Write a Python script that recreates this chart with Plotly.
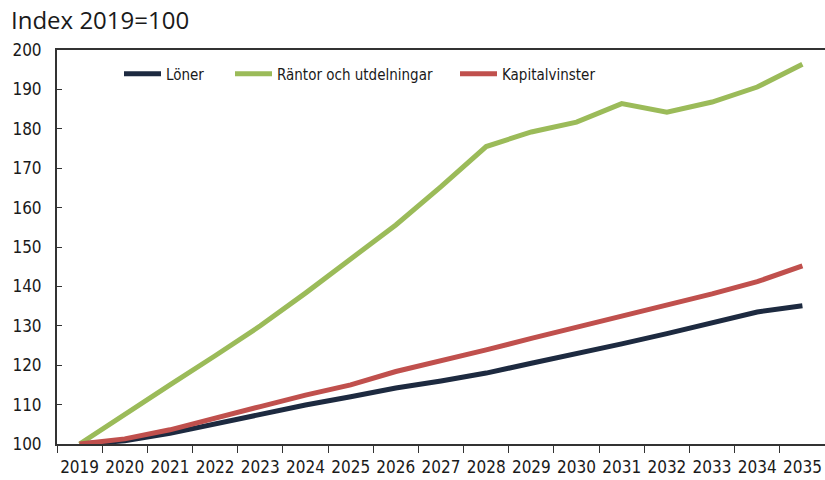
import plotly.graph_objects as go

years = [str(y) for y in range(2019, 2036)]
loner = [100, 100.8, 102.7, 105.1, 107.6, 109.9, 112.0, 114.2, 116.0, 118.0, 120.5, 122.8, 125.4, 128.0, 130.9, 133.5, 135.1]
rantor = [100, 107.6, 115.0, 122.4, 130.0, 138.3, 147.0, 155.6, 165.3, 175.5, 179.2, 181.7, 186.4, 184.2, 186.8, 190.6, 196.4]
kapital = [100, 101.3, 103.6, 106.4, 109.5, 112.4, 115.0, 118.4, 121.0, 123.9, 126.8, 129.6, 132.6, 135.2, 138.1, 141.2, 145.2]
y_ticks = [100, 110, 120, 130, 140, 150, 160, 170, 180, 190, 200]

names = ["Löner", "Räntor och utdelningar", "Kapitalvinster"]
colors = ["#1d2a40", "#9bbb59", "#c0504d"]
legend_ids = ["legend", "legend2", "legend3"]
legend_px = [119, 230, 455]  # left pixel of each legend entry

FONT = "DejaVu Sans Condensed"
W, H = 825, 480
L, R, T, B = 57, 0, 50, 36
PW = W - L - R
PH = H - T - B

fig = go.Figure()
for name, vals, col, lid in zip(names, [loner, rantor, kapital], colors, legend_ids):
    fig.add_trace(go.Scatter(x=years, y=vals, mode="lines", name=name,
                             line=dict(color=col, width=5), legend=lid))

leg_common = dict(orientation="h", yanchor="middle", xanchor="left",
                  y=(PH + T - 74) / PH, bgcolor="rgba(0,0,0,0)",
                  font=dict(family=FONT, size=15, color="#1a1a1a"),
                  itemwidth=37, borderwidth=0)
legends = {}
for lid, px in zip(legend_ids, legend_px):
    legends[lid] = dict(leg_common, x=(px - L) / PW)

fig.update_layout(
    width=W, height=H,
    margin=dict(l=L, r=R, t=T, b=B, pad=0),
    paper_bgcolor="white", plot_bgcolor="white",
    font=dict(family=FONT, size=17, color="#1a1a1a"),
    showlegend=True,
    annotations=[dict(text="Index 2019=100", xref="paper", yref="paper",
                      x=(10 - L) / PW, y=1.0, xanchor="left", yanchor="bottom",
                      yshift=13, showarrow=False, borderpad=0,
                      font=dict(family="Open Sans", size=24, color="#1a1a1a"))],
    **legends,
)
fig.update_xaxes(type="category", range=[-0.5, 16.5], tickson="boundaries",
                 tickangle=0, automargin=False, ticklabelstandoff=7,
                 ticks="outside", ticklen=7, tickcolor="#333", tickwidth=1,
                 showline=True, linecolor="#333", linewidth=2, mirror=True,
                 showgrid=False, zeroline=False,
                 tickfont=dict(family=FONT, size=17, color="#1a1a1a"))
fig.update_yaxes(range=[100, 200], tickvals=y_ticks, automargin=False,
                 ticks="inside", ticklen=5, tickcolor="#333", tickwidth=1,
                 showline=True, linecolor="#333", linewidth=2,
                 showgrid=False, zeroline=False, ticklabelstandoff=10,
                 tickfont=dict(family=FONT, size=17, color="#1a1a1a"))

fig.write_html("out.html", config={"displayModeBar": False},
               post_script="document.body.style.margin='0';document.body.style.overflow='hidden';")
